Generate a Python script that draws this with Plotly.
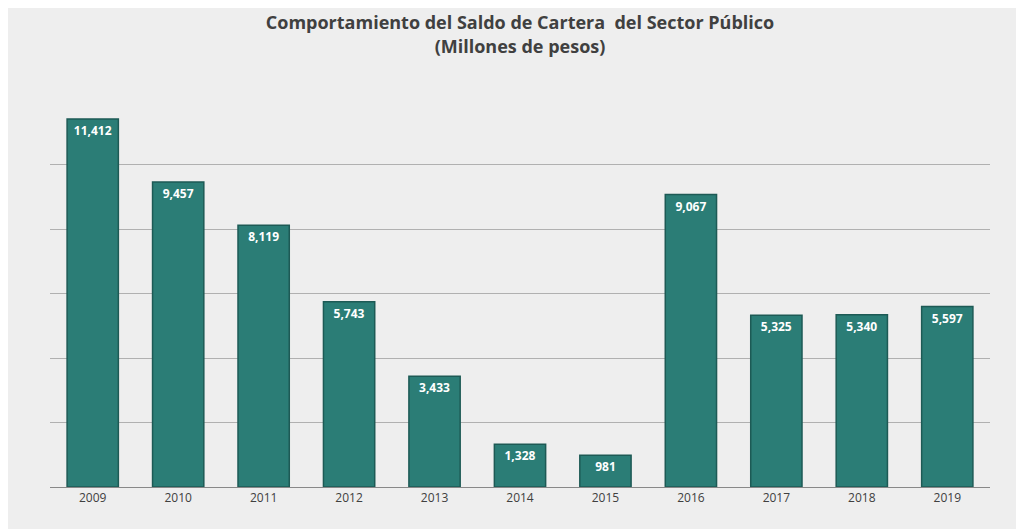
import plotly.graph_objects as go

years = ["2009", "2010", "2011", "2012", "2013", "2014", "2015", "2016", "2017", "2018", "2019"]
saldo = [11412, 9457, 8119, 5743, 3433, 1328, 981, 9067, 5325, 5340, 5597]
labels = [f"<b>{v:,}</b>" for v in saldo]

fig = go.Figure(go.Bar(
    x=years, y=saldo, text=labels, textposition="inside", insidetextanchor="end",
    textfont=dict(color="white", size=12, family="Open Sans"),
    marker=dict(color="#2b7d76", line=dict(color="#1d5a55", width=1.5)),
))

fig.update_layout(
    width=1024, height=529,
    margin=dict(l=42, r=42, t=92, b=50),
    paper_bgcolor="#eeeeee", plot_bgcolor="#eeeeee",
    title=dict(text="<b>Comportamiento del Saldo de Cartera  del Sector Público<br>(Millones de pesos)</b>",
               x=0.5, y=0.96, xanchor="center", yanchor="top",
               font=dict(family="Open Sans", size=18, color="#404040")),
    font=dict(family="Open Sans", color="#404040"),
    showlegend=False,
    bargap=0.4,
    xaxis=dict(showline=True, linecolor="#888888", tickfont=dict(size=12), ticks=""),
    yaxis=dict(range=[0, 12000], dtick=2000, showticklabels=False,
               gridcolor="#b0b0b0", zeroline=False),
)

fig.write_html("out.html")
